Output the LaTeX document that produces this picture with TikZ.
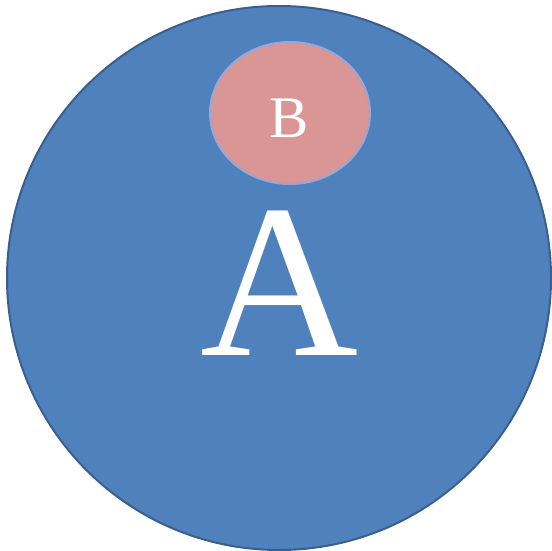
\documentclass[tikz,border=0pt]{standalone}
\usepackage{fontspec}
\setmainfont{Liberation Serif}
\usetikzlibrary{shapes.geometric}
\definecolor{bigfill}{HTML}{4F81BD}
\definecolor{bigdraw}{HTML}{3A5F8F}
\definecolor{smallfill}{HTML}{D99694}
\definecolor{smalldraw}{HTML}{9AA6D6}
\begin{document}
\begin{tikzpicture}[x=1pt,y=-1pt,
  bigcirc/.style={circle,fill=bigfill,draw=bigdraw,line width=2pt,minimum size=544pt,inner sep=0pt},
  smallell/.style={ellipse,fill=smallfill,draw=smalldraw,line width=2pt,minimum width=160pt,minimum height=142pt,inner sep=0pt},
  lbl/.style={text=white,inner sep=0pt}]
\useasboundingbox (0,0) rectangle (552,551);
\node[bigcirc] (A) at (279,278) {};
\node[smallell] (B) at (290,113) {};
\node[lbl,font=\fontsize{219}{219}\selectfont,anchor=base] (tA) at (280,355) {A};
\node[lbl,font=\fontsize{59}{59}\selectfont,anchor=base] (tB) at (289,137) {B};
\end{tikzpicture}
\end{document}
